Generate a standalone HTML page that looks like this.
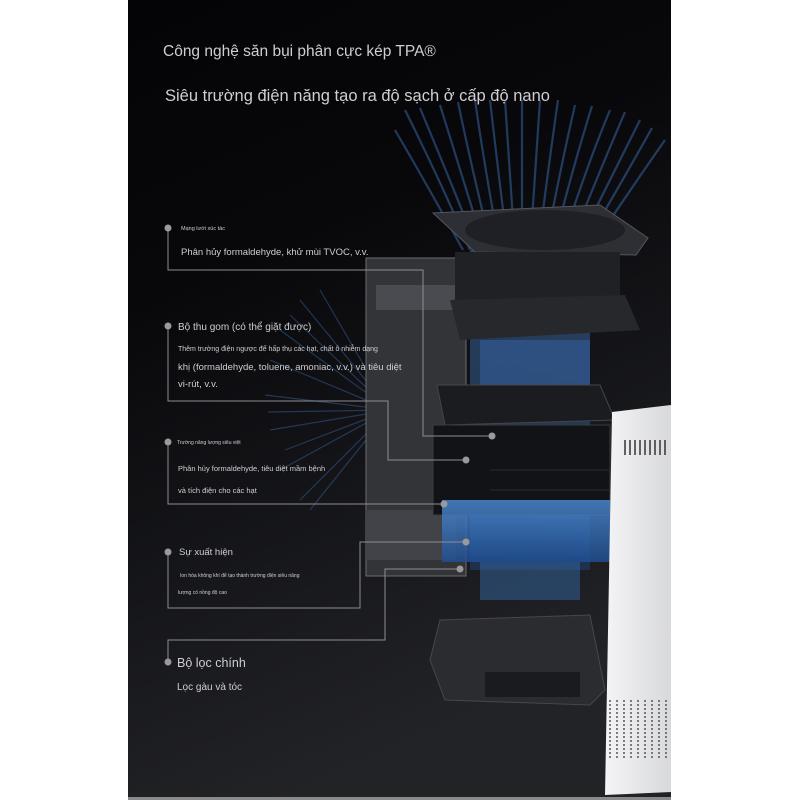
<!DOCTYPE html>
<html><head><meta charset="utf-8"><style>
html,body{margin:0;padding:0;background:#fff;}
svg{display:block;}
text{font-family:"Liberation Sans",sans-serif;fill:#cfcfd2;}
</style></head><body>
<svg width="800" height="800" viewBox="0 0 800 800" xmlns="http://www.w3.org/2000/svg">
<defs>
<linearGradient id="bg" x1="0" y1="0" x2="0.3" y2="1"><stop offset="0" stop-color="#040406"/><stop offset="0.35" stop-color="#08080b"/><stop offset="1" stop-color="#222327"/></linearGradient>
<linearGradient id="blue" x1="0" y1="0" x2="0" y2="1"><stop offset="0" stop-color="#4f8fd8"/><stop offset="1" stop-color="#1f4f95"/></linearGradient>
<linearGradient id="wp" x1="0" y1="0" x2="1" y2="0"><stop offset="0" stop-color="#f4f4f6"/><stop offset="1" stop-color="#d8d9dc"/></linearGradient>
</defs>
<rect x="0" y="0" width="800" height="800" fill="#fff"/>
<rect x="128" y="0" width="543" height="797" fill="url(#bg)"/>
<rect x="128" y="797" width="543" height="3" fill="#8a8a8a"/>

<!-- left ray burst -->
<g stroke="#3a68a6" stroke-width="1.2" opacity="0.45">
<line x1="390" y1="410" x2="300" y2="300"/><line x1="390" y1="410" x2="280" y2="330"/>
<line x1="390" y1="410" x2="270" y2="360"/><line x1="390" y1="410" x2="265" y2="395"/>
<line x1="390" y1="410" x2="270" y2="430"/><line x1="390" y1="410" x2="280" y2="470"/>
<line x1="390" y1="410" x2="300" y2="500"/><line x1="390" y1="410" x2="320" y2="290"/>
<line x1="390" y1="410" x2="285" y2="450"/><line x1="390" y1="410" x2="310" y2="510"/>
<line x1="390" y1="410" x2="290" y2="315"/><line x1="390" y1="410" x2="268" y2="412"/>
</g>
<!-- top rays -->
<g stroke="#3f78c2" stroke-width="2.2" opacity="0.45" fill="none">
<path d="M470 250 Q440 180 405 110"/><path d="M485 250 Q460 170 440 105"/>
<path d="M500 250 Q485 170 475 100"/><path d="M515 250 Q510 170 505 100"/>
<path d="M530 250 Q535 170 540 100"/><path d="M545 250 Q560 170 575 105"/>
<path d="M560 250 Q585 170 610 110"/><path d="M575 250 Q610 180 640 120"/>
<path d="M590 250 Q630 190 665 140"/><path d="M478 250 Q450 180 420 108"/>
<path d="M522 250 Q522 170 522 100"/><path d="M568 250 Q598 175 625 112"/>
<path d="M463 250 Q430 190 395 130"/><path d="M492 250 Q472 170 458 102"/>
<path d="M508 250 Q498 170 490 100"/><path d="M538 250 Q548 170 558 100"/>
<path d="M552 250 Q572 170 592 106"/><path d="M582 250 Q620 185 652 128"/>
</g>

<!-- back grey panel -->
<rect x="366" y="258" width="100" height="318" fill="#333438" stroke="#6a6b70" stroke-width="1"/>
<rect x="376" y="285" width="90" height="25" fill="#4a4b50"/>
<rect x="366" y="510" width="90" height="50" fill="#424348"/>

<!-- blue column -->
<rect x="470" y="250" width="120" height="320" fill="url(#blue)" opacity="0.4"/>

<!-- fan -->
<polygon points="433,213 600,205 648,238 636,255 475,252" fill="#2e2f34" stroke="#55565c"/>
<ellipse cx="545" cy="230" rx="80" ry="20" fill="#1c1d22" opacity="0.8"/>
<rect x="455" y="252" width="165" height="50" fill="#202125"/>
<polygon points="450,300 625,295 640,330 460,340" fill="#27282c"/>
<rect x="480" y="340" width="110" height="45" fill="#34619f" opacity="0.55"/>

<!-- honeycomb box -->
<polygon points="437,385 600,385 615,420 445,425" fill="#1b1c20" stroke="#44454a"/>
<!-- black box -->
<rect x="433" y="425" width="177" height="90" fill="#121316" stroke="#3a3b40"/>
<line x1="490" y1="470" x2="610" y2="470" stroke="#2c2d32"/>
<line x1="490" y1="490" x2="610" y2="490" stroke="#2c2d32"/>
<!-- blue filter -->
<rect x="442" y="500" width="168" height="62" fill="url(#blue)" opacity="0.8"/>
<rect x="480" y="562" width="100" height="38" fill="#33659f" opacity="0.5"/>
<!-- base -->
<polygon points="440,620 590,615 605,690 590,705 445,700 430,660" fill="#2b2c30" stroke="#46474c"/>
<rect x="485" y="672" width="95" height="25" fill="#1a1b1e"/>

<!-- white front panel -->
<polygon points="612,412 671,405 671,792 605,795" fill="url(#wp)"/>
<g stroke="#333" stroke-width="1.5">
<line x1="625" y1="440" x2="625" y2="455"/><line x1="630" y1="440" x2="630" y2="455"/><line x1="635" y1="440" x2="635" y2="455"/><line x1="640" y1="440" x2="640" y2="455"/><line x1="645" y1="440" x2="645" y2="455"/><line x1="650" y1="440" x2="650" y2="455"/><line x1="655" y1="440" x2="655" y2="455"/><line x1="660" y1="440" x2="660" y2="455"/><line x1="665" y1="440" x2="665" y2="455"/>
</g>
<g stroke="#555" stroke-width="1.5" stroke-dasharray="2 2">
<line x1="610" y1="700" x2="610" y2="760"/><line x1="617" y1="700" x2="617" y2="760"/><line x1="624" y1="700" x2="624" y2="760"/><line x1="631" y1="700" x2="631" y2="760"/><line x1="638" y1="700" x2="638" y2="760"/><line x1="645" y1="700" x2="645" y2="760"/><line x1="652" y1="700" x2="652" y2="760"/><line x1="659" y1="700" x2="659" y2="760"/><line x1="666" y1="700" x2="666" y2="760"/>
</g>

<!-- connectors -->
<g stroke="#8d8d92" stroke-width="1" fill="none">
<polyline points="168,228 168,270 423,270 423,436 492,436"/>
<polyline points="168,326 168,401 388,401 388,460 466,460"/>
<polyline points="168,442 168,504 444,504"/>
<polyline points="168,552 168,608 360,608 360,542 466,542"/>
<polyline points="168,662 168,640 385,640 385,569 460,569"/>
</g>
<g fill="#9a9a9e">
<circle cx="168" cy="228" r="3.5"/><circle cx="168" cy="326" r="3.5"/><circle cx="168" cy="442" r="3.5"/><circle cx="168" cy="552" r="3.5"/><circle cx="168" cy="662" r="3.5"/>
<circle cx="492" cy="436" r="3.5"/><circle cx="466" cy="460" r="3.5"/><circle cx="444" cy="504" r="3.5"/><circle cx="466" cy="542" r="3.5"/><circle cx="460" cy="569" r="3.5"/>
</g>

<!-- text -->
<text x="163" y="56" font-size="15.5">Công nghệ săn bụi phân cực kép TPA®</text>
<text x="165" y="101" font-size="16.5">Siêu trường điện năng tạo ra độ sạch ở cấp độ nano</text>

<text x="181" y="230" font-size="5.5">Mạng lưới xúc tác</text>
<text x="181" y="255" font-size="9.5">Phân hủy formaldehyde, khử mùi TVOC, v.v.</text>

<text x="178" y="330" font-size="10">Bộ thu gom (có thể giặt được)</text>
<text x="178" y="351" font-size="7">Thêm trường điện ngược để hấp thụ các hạt, chất ô nhiễm dạng</text>
<text x="178" y="370" font-size="9.5">khị (formaldehyde, toluene, amoniac, v.v.) và tiêu diệt</text>
<text x="178" y="387" font-size="9.5">vi-rút, v.v.</text>

<text x="177" y="444" font-size="5">Trường năng lượng siêu việt</text>
<text x="178" y="471" font-size="7.5">Phân hủy formaldehyde, tiêu diệt mầm bệnh</text>
<text x="178" y="493" font-size="7.5">và tích điện cho các hạt</text>

<text x="179" y="555" font-size="9.5">Sự xuất hiện</text>
<text x="180" y="577" font-size="5">Ion hóa không khí để tạo thành trường điện siêu năng</text>
<text x="178" y="594" font-size="5">lượng có nồng độ cao</text>

<text x="177" y="667" font-size="12.5">Bộ lọc chính</text>
<text x="177" y="690" font-size="10">Lọc gàu và tóc</text>
</svg>
</body></html>
